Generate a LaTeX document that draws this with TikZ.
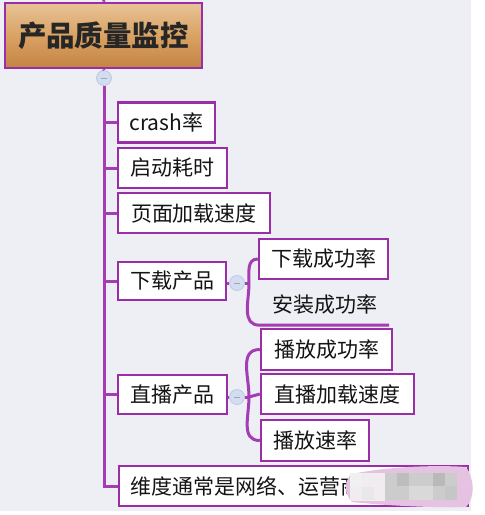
\documentclass[tikz,border=0pt]{standalone}
\usepackage{fontspec}
\setmainfont{Noto Sans CJK SC}
\definecolor{bg}{HTML}{EEEFF4}
\definecolor{pline}{HTML}{A43CB4}
\definecolor{pbord}{HTML}{9A2EA6}
\definecolor{txt}{HTML}{141414}
\definecolor{hubfill}{HTML}{D3DDF2}
\definecolor{hubdraw}{HTML}{B8C2D8}
\definecolor{roottop}{HTML}{E8C496}
\definecolor{rootmid}{HTML}{D9A264}
\definecolor{rootbot}{HTML}{C48442}
\definecolor{blurpink}{HTML}{E6C2E2}
\definecolor{blurlight}{HTML}{F1ECF0}
\begin{document}
\begin{tikzpicture}[x=1pt,y=-1pt,
  leaf/.style={draw=pbord,line width=2.4pt,fill=white,inner sep=0pt,
    font=\fontsize{21}{21}\selectfont,text=txt,minimum height=40pt},
  plain/.style={inner sep=0pt,font=\fontsize{21}{21}\selectfont,text=txt,minimum height=40pt},
  conn/.style={draw=pline,line width=3pt},
  hub/.style={circle,fill=hubfill,draw=hubdraw,line width=0.6pt,minimum size=15pt,inner sep=0pt},
]
\useasboundingbox (0,0) rectangle (485,515);
\fill[white] (0,0) rectangle (485,515);
\fill[bg] (0,0) rectangle (471,511);

% root
\node[draw=pbord,line width=2.6pt,inner sep=0pt,minimum width=197pt,minimum height=65pt,
  top color=roottop,bottom color=rootbot,middle color=rootmid,
  font=\fontsize{28.5}{28.5}\selectfont\bfseries,text=black!85] (root) at (103.5,35.5) {产品质量监控};

\coordinate (top) at (104,0);
\draw[conn] (root.north) -- (top);

\node[hub] (h0) at (104,78) {};
\draw[gray!70,line width=0.8pt] ([xshift=-3pt]h0.center) -- ([xshift=3pt]h0.center);
\draw[conn] (root.south) -- (h0.north);

% first level
\node[leaf,minimum width=97pt] (a1) at (166.5,122.5) {crash率};
\node[leaf,minimum width=109pt] (a2) at (172.5,168) {启动耗时};
\node[leaf,minimum width=152pt] (a3) at (194,213) {页面加载速度};
\node[leaf,minimum width=108pt,minimum height=38pt] (a4) at (172,281) {下载产品};
\node[leaf,minimum width=109pt,minimum height=39pt] (a5) at (172.5,394.5) {直播产品};
\node[leaf,minimum width=349pt,anchor=west,text width=326pt,inner xsep=10.5pt,align=left] (a6) at (118,486) {维度通常是网络、运营商};

\coordinate (bend) at (104,486);
\draw[conn] (h0.south) -- (bend) -- (a6.west);
\foreach \n in {a1,a2,a3,a4,a5}{
  \draw[conn] (104,0 |- \n.west) -- (\n.west);
}

% second level: download
\node[hub] (h1) at (237,283) {};
\draw[gray!70,line width=0.8pt] ([xshift=-3pt]h1.center) -- ([xshift=3pt]h1.center);
\draw[conn] (a4.east |- h1.west) -- (h1.west);
\node[leaf,minimum width=129pt] (b1) at (323.5,259) {下载成功率};
\node[plain,minimum width=129pt] (b2) at (324.5,305) {安装成功率};
\coordinate (j1) at (249,283);
\draw[conn] (h1.east) -- (j1);
\draw[conn] (j1) to[out=90,in=180,looseness=1.1] (b1.west);
\draw[conn] (j1) to[out=-90,in=180,looseness=1.1] (b2.south west) -- (b2.south east);

% second level: live
\node[hub] (h2) at (237,397) {};
\draw[gray!70,line width=0.8pt] ([xshift=-3pt]h2.center) -- ([xshift=3pt]h2.center);
\draw[conn] (a5.east |- h2.west) -- (h2.west);
\node[leaf,minimum width=131pt,minimum height=41pt] (c1) at (326.5,349.5) {播放成功率};
\node[leaf,minimum width=153pt] (c2) at (337.5,394) {直播加载速度};
\node[leaf,minimum width=108pt,minimum height=41pt] (c3) at (315,440.5) {播放速率};
\coordinate (j2) at (249,397);
\draw[conn] (h2.east) -- (j2);
\draw[conn] (j2) to[out=90,in=180,looseness=1.1] (c1.west);
\draw[conn] (j2) -- (c2.west);
\draw[conn] (j2) to[out=-90,in=180,looseness=1.1] (c3.west);

% blurred redaction
\fill[blurpink] (352,474) .. controls (390,466) and (440,465) .. (466,467)
  .. controls (475,480) and (475,498) .. (466,507) .. controls (440,508) and (390,506) .. (352,502)
  .. controls (344,494) and (344,480) .. (352,474) -- cycle;
\fill[blurlight] (350,473) rectangle (385,501);
\fill[gray!12] (350,473) rectangle (362,487);
\fill[gray!18] (362,487) rectangle (374,500);
\fill[gray!40] (385,473) rectangle (457,500);
\fill[gray!52] (397,473) rectangle (409,486);
\fill[gray!55] (433,473) rectangle (445,486);
\fill[gray!30] (409,486) rectangle (433,500);
\fill[gray!45] (445,486) rectangle (457,500);
\end{tikzpicture}
\end{document}
